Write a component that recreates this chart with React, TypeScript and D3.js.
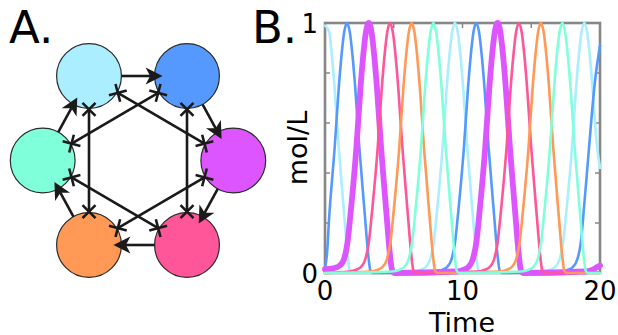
import React from "react";
import * as d3 from "d3";

// ---------- DATA ----------
const speciesNames = ["lightblue", "blue", "magenta", "pink", "orange", "aqua"];
const speciesColors = ["#aaeeff", "#5599ff", "#dd55ff", "#ff5599", "#ff9955", "#80ffdb"];
const speciesWidths = [2.6, 2.6, 5.8, 2.6, 2.6, 2.6];

// activations (clockwise ring) and inhibitions (skip-one hexagram)
const activations: [number, number][] = [[0, 1], [1, 2], [2, 3], [3, 4], [4, 5], [5, 0]];
const inhibitions: [number, number][] = [[0, 2], [1, 3], [2, 4], [3, 5], [4, 0], [5, 1]];

const xTicks = [0, 10, 20];
const xMinorTicks = [5, 10, 15];
const yTicks = [0, 1];
const yMinorTicks = [0.2, 0.4, 0.6, 0.8];

const lightBlue: [number, number][] = [
  [0, 0.99], [0.3, 0.965], [0.5, 0.87], [0.7, 0.74], [1.0, 0.5], [1.4, 0.23], [1.65, 0.07], [1.8, 0.01], [1.95, 0],
  [6.45, 0.006], [6.95, 0.012], [7.35, 0.025], [7.65, 0.055], [7.9, 0.12], [8.15, 0.25], [8.55, 0.5], [8.85, 0.74], [9.05, 0.87], [9.25, 0.965], [9.45, 1], [9.65, 0.965], [9.85, 0.87], [10.05, 0.74], [10.35, 0.5], [10.75, 0.23], [11.0, 0.07], [11.15, 0.01], [11.3, 0],
  [15.86, 0.006], [16.36, 0.012], [16.76, 0.025], [17.06, 0.055], [17.31, 0.12], [17.56, 0.25], [17.96, 0.5], [18.26, 0.74], [18.46, 0.87], [18.66, 0.965], [18.86, 1], [19.06, 0.965], [19.26, 0.87], [19.46, 0.74], [19.76, 0.52], [20, 0.42],
];
const blue: [number, number][] = [
  [0, 0.02], [0.15, 0.08], [0.3, 0.22], [0.7, 0.5], [1.0, 0.74], [1.2, 0.87], [1.4, 0.965], [1.6, 1], [1.8, 0.965], [2.0, 0.87], [2.2, 0.74], [2.5, 0.5], [2.9, 0.23], [3.15, 0.07], [3.3, 0.01], [3.45, 0],
  [8.0, 0.006], [8.5, 0.012], [8.9, 0.025], [9.2, 0.055], [9.45, 0.12], [9.7, 0.25], [10.1, 0.5], [10.4, 0.74], [10.6, 0.87], [10.8, 0.965], [11.0, 1], [11.2, 0.965], [11.4, 0.87], [11.6, 0.74], [11.9, 0.5], [12.3, 0.23], [12.55, 0.07], [12.7, 0.01], [12.85, 0],
  [17.15, 0.006], [17.65, 0.012], [18.05, 0.025], [18.35, 0.055], [18.6, 0.12], [18.85, 0.27], [19.2, 0.5], [19.6, 0.75], [20, 0.91],
];
const magenta: [number, number][] = [
  [0, 0.015], [0.7, 0.02], [1.08, 0.03], [1.38, 0.055], [1.63, 0.12], [1.88, 0.25], [2.28, 0.5], [2.58, 0.74], [2.78, 0.87], [2.98, 0.965], [3.18, 1], [3.38, 0.965], [3.58, 0.87], [3.78, 0.74], [4.08, 0.5], [4.48, 0.23], [4.73, 0.07], [4.88, 0.01], [5.03, 0],
  [9.55, 0.006], [10.05, 0.012], [10.45, 0.025], [10.75, 0.055], [11.0, 0.12], [11.25, 0.25], [11.65, 0.5], [11.95, 0.74], [12.15, 0.87], [12.35, 0.965], [12.55, 1], [12.75, 0.965], [12.95, 0.87], [13.15, 0.74], [13.45, 0.5], [13.85, 0.23], [14.1, 0.07], [14.25, 0.01], [14.4, 0],
  [18.93, 0.006], [19.43, 0.012], [19.83, 0.025], [20, 0.03],
];
const pink: [number, number][] = [
  [0, 0], [1.73, 0.006], [2.23, 0.012], [2.63, 0.025], [2.93, 0.055], [3.18, 0.12], [3.43, 0.25], [3.83, 0.5], [4.13, 0.74], [4.33, 0.87], [4.53, 0.965], [4.73, 1], [4.93, 0.965], [5.13, 0.87], [5.33, 0.74], [5.63, 0.5], [6.03, 0.23], [6.28, 0.07], [6.43, 0.01], [6.58, 0],
  [11.1, 0.006], [11.6, 0.012], [12.0, 0.025], [12.3, 0.055], [12.55, 0.12], [12.8, 0.25], [13.2, 0.5], [13.5, 0.74], [13.7, 0.87], [13.9, 0.965], [14.1, 1], [14.3, 0.965], [14.5, 0.87], [14.7, 0.74], [15.0, 0.5], [15.4, 0.23], [15.65, 0.07], [15.8, 0.01], [15.95, 0],
  [20, 0.003],
];
const orange: [number, number][] = [
  [0, 0], [3.3, 0.006], [3.8, 0.012], [4.2, 0.025], [4.5, 0.055], [4.75, 0.12], [5.0, 0.25], [5.4, 0.5], [5.7, 0.74], [5.9, 0.87], [6.1, 0.965], [6.3, 1], [6.5, 0.965], [6.7, 0.87], [6.9, 0.74], [7.2, 0.5], [7.6, 0.23], [7.85, 0.07], [8.0, 0.01], [8.15, 0],
  [12.7, 0.006], [13.2, 0.012], [13.6, 0.025], [13.9, 0.055], [14.15, 0.12], [14.4, 0.25], [14.8, 0.5], [15.1, 0.74], [15.3, 0.87], [15.5, 0.965], [15.7, 1], [15.9, 0.965], [16.1, 0.87], [16.3, 0.74], [16.6, 0.5], [17.0, 0.23], [17.25, 0.07], [17.4, 0.01], [17.55, 0],
  [20, 0],
];
const aqua: [number, number][] = [
  [0, 0], [4.88, 0.006], [5.38, 0.012], [5.78, 0.025], [6.08, 0.055], [6.33, 0.12], [6.58, 0.25], [6.98, 0.5], [7.28, 0.74], [7.48, 0.87], [7.68, 0.965], [7.88, 1], [8.08, 0.965], [8.28, 0.87], [8.48, 0.74], [8.78, 0.5], [9.18, 0.23], [9.43, 0.07], [9.58, 0.01], [9.73, 0],
  [14.26, 0.006], [14.76, 0.012], [15.16, 0.025], [15.46, 0.055], [15.71, 0.12], [15.96, 0.25], [16.36, 0.5], [16.66, 0.74], [16.86, 0.87], [17.06, 0.965], [17.26, 1], [17.46, 0.965], [17.66, 0.87], [17.86, 0.74], [18.16, 0.5], [18.56, 0.23], [18.81, 0.07], [18.96, 0.01], [19.11, 0],
  [20, 0],
];
const seriesData = [lightBlue, blue, magenta, pink, orange, aqua];

// ---------- LAYOUT ----------
const W = 618, H = 335;
const FONT = "DejaVu Sans, sans-serif";
const plot = { left: 325, right: 600, top: 23, bottom: 273 };
const net = { cx: 138, cy: 160.5, dxTop: 49, dxSide: 95.3, dy: 84.5, r: 32.4 };

function nodePos(i: number): [number, number] {
  const { cx, cy, dxTop, dxSide, dy } = net;
  const p: [number, number][] = [
    [cx - dxTop, cy - dy], [cx + dxTop, cy - dy], [cx + dxSide, cy],
    [cx + dxTop, cy + dy], [cx - dxTop, cy + dy], [cx - dxSide, cy],
  ];
  return p[i];
}

export default function App() {
  const x = d3.scaleLinear().domain([0, 20]).range([plot.left, plot.right]);
  const y = d3.scaleLinear().domain([0, 1]).range([plot.bottom, plot.top]);
  const line = d3.line<[number, number]>().x(d => x(d[0])).y(d => y(d[1])).curve(d3.curveMonotoneX);

  const ink = "#1a1a1a";
  const frame = "#878787";
  const tickLen = 5;

  const arrows = activations.map(([a, b], k) => {
    const [x1, y1] = nodePos(a);
    const [x2, y2] = nodePos(b);
    const L = Math.hypot(x2 - x1, y2 - y1);
    const ux = (x2 - x1) / L, uy = (y2 - y1) / L;
    const sx = x1 + ux * net.r, sy = y1 + uy * net.r;
    const tx = x2 - ux * (net.r - 8), ty = y2 - uy * (net.r - 8);
    const ang = (Math.atan2(uy, ux) * 180) / Math.PI;
    return (
      <g key={"a" + k}>
        <line x1={sx} y1={sy} x2={tx - ux * 12} y2={ty - uy * 12} stroke={ink} strokeWidth={2.6} />
        <path d="M0,0 L-17,-8.5 L-12.5,0 L-17,8.5 Z" fill={ink} transform={`translate(${tx},${ty}) rotate(${ang})`} />
      </g>
    );
  });

  const inhib = inhibitions.map(([a, b], k) => {
    const [x1, y1] = nodePos(a);
    const [x2, y2] = nodePos(b);
    const L = Math.hypot(x2 - x1, y2 - y1);
    const ux = (x2 - x1) / L, uy = (y2 - y1) / L;
    const rr = net.r + 1;
    const sx = x1 + ux * rr, sy = y1 + uy * rr;
    const ex = x2 - ux * rr, ey = y2 - uy * rr;
    const ang = (Math.atan2(uy, ux) * 180) / Math.PI;
    const xMark = (px: number, py: number, key: string) => (
      <path key={key} d="M-6.5,-6.5 L6.5,6.5 M-6.5,6.5 L6.5,-6.5" stroke={ink} strokeWidth={2.6} fill="none"
        transform={`translate(${px},${py}) rotate(${ang})`} />
    );
    return (
      <g key={"i" + k}>
        <line x1={sx} y1={sy} x2={ex} y2={ey} stroke={ink} strokeWidth={2.6} />
        {xMark(sx, sy, "s")}
        {xMark(ex, ey, "e")}
      </g>
    );
  });

  return (
    <svg width={W} height={H} style={{ position: "absolute", left: 0, top: 0, background: "#fff" }} fontFamily={FONT}>
      <rect width={W} height={H} fill="#fff" />
      {/* Panel A */}
      <text x={9} y={43} fontSize={45} fill="#000">A.</text>
      {speciesNames.map((n, i) => {
        const [cx, cy] = nodePos(i);
        return <circle key={n} cx={cx} cy={cy} r={net.r} fill={speciesColors[i]} stroke="#2b2b2b" strokeWidth={1.2} />;
      })}
      {inhib}
      {arrows}

      {/* Panel B */}
      <text x={252} y={43} fontSize={45} fill="#000">B.</text>
      <rect x={plot.left} y={plot.top} width={plot.right - plot.left} height={plot.bottom - plot.top}
        fill="none" stroke={frame} strokeWidth={2.6} />
      {yMinorTicks.map(v => (
        <g key={"yt" + v}>
          <line x1={plot.left} x2={plot.left + tickLen} y1={y(v)} y2={y(v)} stroke={frame} strokeWidth={1.5} />
          <line x1={plot.right} x2={plot.right - tickLen} y1={y(v)} y2={y(v)} stroke={frame} strokeWidth={1.5} />
        </g>
      ))}
      {xMinorTicks.map(v => (
        <g key={"xt" + v}>
          <line x1={x(v)} x2={x(v)} y1={plot.top} y2={plot.top + tickLen} stroke={frame} strokeWidth={1.5} />
          <line x1={x(v)} x2={x(v)} y1={plot.bottom} y2={plot.bottom - tickLen} stroke={frame} strokeWidth={1.5} />
        </g>
      ))}
      {seriesData.map((s, i) => (
        <path key={speciesNames[i]} d={line(s) || ""} fill="none" stroke={speciesColors[i]}
          strokeWidth={speciesWidths[i]} strokeLinejoin="round" strokeLinecap="round" />
      ))}
      {yTicks.map(v => (
        <text key={"yl" + v} x={318} y={y(v) + 10} fontSize={26} textAnchor="end" fill="#000">{v}</text>
      ))}
      {xTicks.map(v => (
        <text key={"xl" + v} x={x(v)} y={300} fontSize={26} textAnchor="middle" fill="#000">{v}</text>
      ))}
      <text x={462} y={332} fontSize={27} textAnchor="middle" fill="#000">Time</text>
      <text transform={`translate(307,${(plot.top + plot.bottom) / 2}) rotate(-90)`} fontSize={27} textAnchor="middle" fill="#000">mol/L</text>
    </svg>
  );
}
